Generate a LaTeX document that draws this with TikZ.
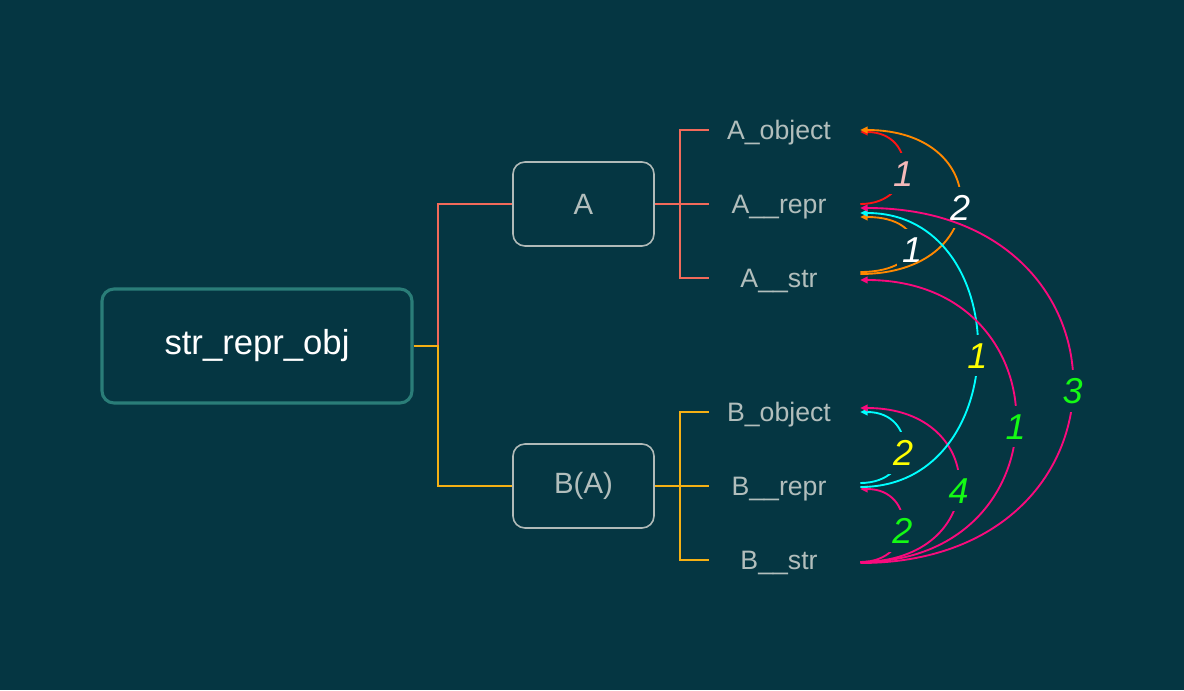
\documentclass[tikz,border=0pt]{standalone}
\usepackage{fontspec}
\setmainfont{Liberation Sans}
\usetikzlibrary{arrows.meta,calc}
\definecolor{bg}{RGB}{5,54,66}
\definecolor{rootc}{RGB}{42,125,120}
\definecolor{boxc}{RGB}{176,186,184}
\definecolor{txtc}{RGB}{178,190,188}
\definecolor{salm}{RGB}{242,106,90}
\definecolor{amber}{RGB}{245,176,20}
\definecolor{ared}{RGB}{255,20,20}
\definecolor{aora}{RGB}{255,136,0}
\definecolor{acya}{RGB}{0,255,255}
\definecolor{apink}{RGB}{250,10,125}
\definecolor{lpink}{RGB}{245,185,185}
\definecolor{lyel}{RGB}{255,255,0}
\definecolor{lgrn}{RGB}{20,250,20}
\newcommand\relarc[8]{%
  \draw[arrline,#1] ($(#2.east)+(0,#3)$) .. controls ($(#2.east)+(#6,#3)$) and ($(#4.east)+(#6,#5)$) .. ($(#4.east)+(0,#5)$) node[lbl,text=#7] {#8};}
\begin{document}
\begin{tikzpicture}[x=0.75pt,y=-0.75pt,
  rootbox/.style={draw=rootc,line width=2.3pt,rounded corners=9pt,minimum width=232.5pt,minimum height=85.5pt,text=white,font=\fontsize{26}{30}\selectfont,inner sep=0pt},
  midbox/.style={draw=boxc,line width=1.2pt,rounded corners=9pt,minimum width=105.75pt,minimum height=63pt,text=txtc,font=\fontsize{22}{26}\selectfont,inner sep=0pt},
  leaf/.style={minimum width=121.5pt,inner sep=0pt,text height=17pt,text depth=3pt,text=txtc,font=\fontsize{20}{24}\selectfont},
  redc/.style={draw=salm,line width=1.4pt},
  ambc/.style={draw=amber,line width=1.4pt},
  arrline/.style={line width=1.4pt,-{Triangle[length=5.5pt,width=5pt]}},
  lbl/.style={pos=0.5,yshift=-4pt,fill=bg,inner xsep=4pt,inner ysep=6pt,text height=19pt,text depth=0pt,font=\itshape\fontsize{27}{30}\selectfont}
]
\fill[bg] (0,0) rectangle (1184,690);
\useasboundingbox (0,0) rectangle (1184,690);

\node[rootbox] (root) at (257,346) {str\_repr\_obj};
\node[midbox] (A) at (583.5,204) {A};
\node[midbox] (B) at (583.5,486) {B(A)};

\node[leaf] (Aobj) at (779,130) {A\_object};
\node[leaf] (Arepr) at (779,204) {A\_\_repr};
\node[leaf] (Astr) at (779,278) {A\_\_str};
\node[leaf] (Bobj) at (779,412) {B\_object};
\node[leaf] (Brepr) at (779,486) {B\_\_repr};
\node[leaf] (Bstr) at (779,560) {B\_\_str};

\coordinate (j) at (438,346);
\coordinate (ja) at (680,204);
\coordinate (jb) at (680,486);

\draw[redc] (j) |- (A.west);
\draw[ambc] (root.east) -- (j) |- (B.west);
\draw[redc] (A.east) -- ($(Arepr.west)+(11,0)$);
\draw[redc] ($(Aobj.west)+(11,0)$) -| (ja) |- ($(Astr.west)+(11,0)$);
\draw[ambc] (B.east) -- ($(Brepr.west)+(11,0)$);
\draw[ambc] ($(Bobj.west)+(11,0)$) -| (jb) |- ($(Bstr.west)+(11,0)$);

% arcs: color, src, srcdy, tgt, tgtdy, ctrl, labelcolor, label
\relarc{ared}{Arepr}{0}{Aobj}{2}{57}{lpink}{1}
\relarc{aora}{Astr}{-6}{Arepr}{13}{69}{white}{1}
\relarc{acya}{Brepr}{-3}{Bobj}{0}{57}{lyel}{2}
\relarc{apink}{Bstr}{2}{Brepr}{3}{56}{lgrn}{2}
\relarc{apink}{Bstr}{2}{Bobj}{-4}{131}{lgrn}{4}
\relarc{aora}{Astr}{-4}{Aobj}{0}{133}{white}{2}
\relarc{acya}{Brepr}{1}{Arepr}{9}{156}{lyel}{1}
\relarc{apink}{Bstr}{2}{Astr}{2}{207}{lgrn}{1}
\relarc{apink}{Bstr}{3}{Arepr}{4}{283}{lgrn}{3}
\end{tikzpicture}
\end{document}
